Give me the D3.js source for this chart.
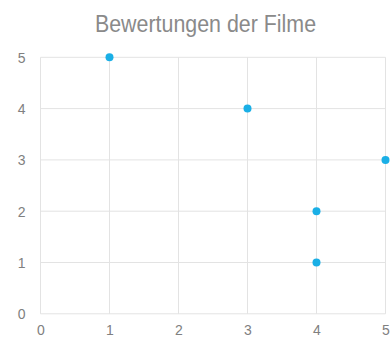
<!DOCTYPE html>
<html>
<head>
<meta charset="utf-8">
<script src="https://cdn.jsdelivr.net/npm/d3@7"></script>
<style>
  html, body { margin: 0; padding: 0; background: #fff; }
  svg { display: block; }
</style>
</head>
<body>
<svg id="chart" width="391" height="340"></svg>
<script>
// Movie ratings: x and y value of each point
const xValues = [1, 3, 5, 4, 4];
const yValues = [5, 4, 3, 2, 1];
const xTicks = [0, 1, 2, 3, 4, 5];
const yTicks = [0, 1, 2, 3, 4, 5];
const title = "Bewertungen der Filme";

const svg = d3.select("#chart");
const margin = { left: 40.5, right: 5.5, top: 57.3, bottom: 26.2 };
const W = 391, H = 340;

const x = d3.scaleLinear().domain([0, 5]).range([margin.left, W - margin.right]);
const y = d3.scaleLinear().domain([0, 5]).range([H - margin.bottom, margin.top]);

const gridColor = "#e3e3e3";
const textColor = "#808080";
const font = "'Liberation Sans', Arial, sans-serif";

// Gridlines
svg.append("g").selectAll("line.v").data(xTicks).join("line")
  .attr("x1", d => x(d)).attr("x2", d => x(d))
  .attr("y1", y(5)).attr("y2", y(0))
  .attr("stroke", gridColor).attr("stroke-width", 1);
svg.append("g").selectAll("line.h").data(yTicks).join("line")
  .attr("x1", x(0)).attr("x2", x(5))
  .attr("y1", d => y(d)).attr("y2", d => y(d))
  .attr("stroke", gridColor).attr("stroke-width", 1);

// Axis labels, drawn slightly tall and narrow
function tallText(sel, sx, sy) {
  sel.each(function () {
    const t = d3.select(this);
    const tx = +t.attr("x") || 0, ty = +t.attr("y") || 0;
    t.attr("transform", `translate(${tx},${ty}) scale(${sx},${sy}) translate(${-tx},${-ty})`);
  });
}

const xAxis = svg.append("g")
  .attr("transform", `translate(0,${y(0)})`)
  .call(d3.axisBottom(x).tickValues(xTicks).tickSize(0).tickPadding(10).tickFormat(d3.format("d")));
const yAxis = svg.append("g")
  .attr("transform", `translate(${x(0)},0)`)
  .call(d3.axisLeft(y).tickValues(yTicks).tickSize(0).tickPadding(15).tickFormat(d3.format("d")));
[xAxis, yAxis].forEach(g => {
  g.select(".domain").remove();
  g.selectAll("text").attr("fill", textColor).attr("font-size", 14).attr("font-family", font)
    .call(tallText, 1, 1.08);
});

// Points
svg.append("g").selectAll("circle").data(xValues.map((v, i) => [v, yValues[i]])).join("circle")
  .attr("cx", d => x(d[0])).attr("cy", d => y(d[1]))
  .attr("r", 4).attr("fill", "#1aafe6");

// Title
svg.append("text")
  .attr("x", 205.5).attr("y", 32)
  .attr("text-anchor", "middle")
  .attr("fill", "#8a8a8a")
  .attr("font-size", 21.4)
  .attr("font-family", font)
  .text(title)
  .call(tallText, 1, 1.1);
</script>
</body>
</html>
